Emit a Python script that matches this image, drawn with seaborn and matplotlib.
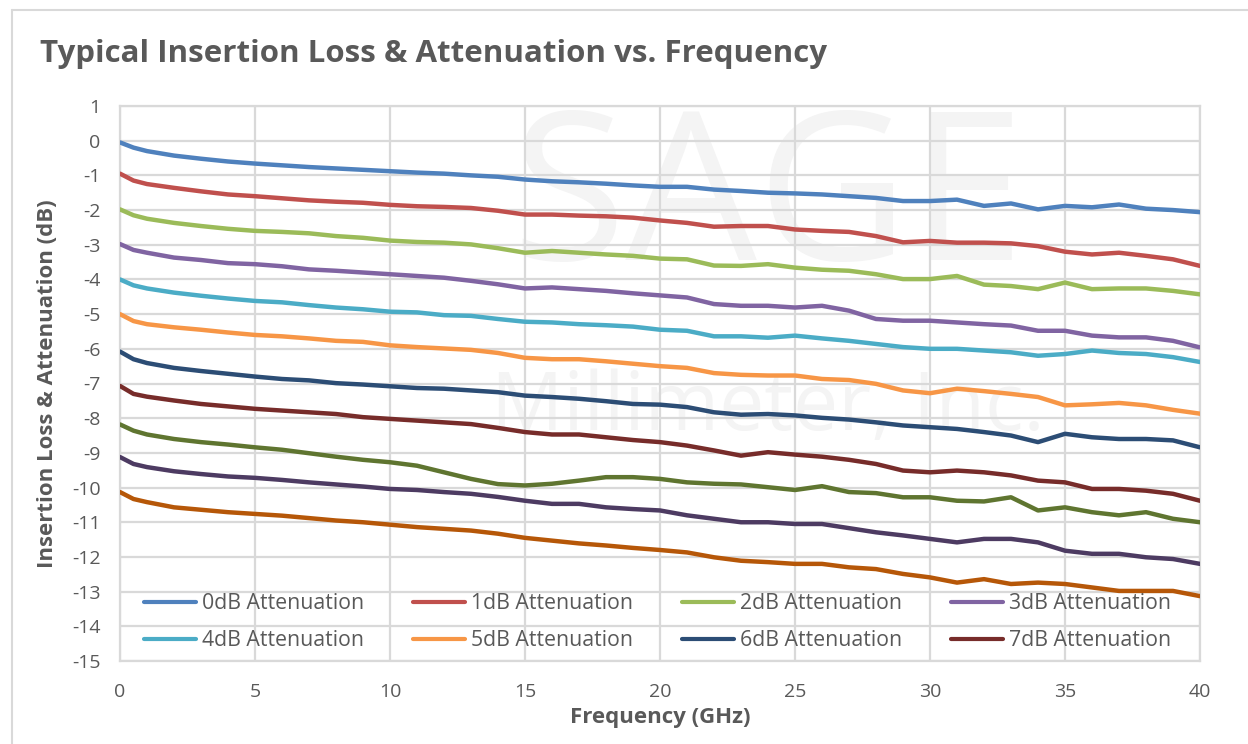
import matplotlib
matplotlib.use("Agg")
import matplotlib.pyplot as plt
from matplotlib.lines import Line2D
import seaborn as sns
import pandas as pd

# ---------------- data ----------------
freq_ghz = [0, 0.5] + list(range(1, 41))

att_0db = [-0.05, -0.20, -0.30, -0.43, -0.52, -0.60, -0.66, -0.71, -0.76, -0.80, -0.84, -0.88,
           -0.92, -0.95, -1.00, -1.04, -1.12, -1.17, -1.20, -1.24, -1.29, -1.33, -1.33, -1.41,
           -1.45, -1.50, -1.52, -1.55, -1.60, -1.65, -1.74, -1.74, -1.70, -1.88, -1.81, -1.98,
           -1.88, -1.92, -1.84, -1.96, -2.00, -2.06]
att_1db = [-0.95, -1.15, -1.25, -1.36, -1.46, -1.55, -1.60, -1.66, -1.72, -1.76, -1.79, -1.85,
           -1.89, -1.91, -1.94, -2.02, -2.13, -2.13, -2.16, -2.18, -2.22, -2.30, -2.37, -2.48,
           -2.46, -2.46, -2.56, -2.60, -2.63, -2.75, -2.93, -2.89, -2.94, -2.94, -2.96, -3.04,
           -3.20, -3.28, -3.23, -3.32, -3.42, -3.61]
att_2db = [-1.98, -2.15, -2.25, -2.37, -2.46, -2.54, -2.60, -2.63, -2.67, -2.75, -2.80, -2.88,
           -2.92, -2.94, -2.99, -3.10, -3.23, -3.18, -3.23, -3.28, -3.32, -3.40, -3.42, -3.60,
           -3.61, -3.56, -3.66, -3.72, -3.75, -3.85, -3.99, -3.99, -3.90, -4.15, -4.19, -4.28,
           -4.09, -4.28, -4.26, -4.26, -4.33, -4.43]
att_3db = [-2.98, -3.15, -3.23, -3.37, -3.44, -3.53, -3.56, -3.62, -3.71, -3.75, -3.80, -3.85,
           -3.90, -3.95, -4.04, -4.14, -4.26, -4.23, -4.28, -4.33, -4.40, -4.46, -4.52, -4.71,
           -4.76, -4.76, -4.81, -4.76, -4.90, -5.14, -5.19, -5.19, -5.24, -5.29, -5.33, -5.48,
           -5.48, -5.62, -5.67, -5.67, -5.77, -5.96]
att_4db = [-4.00, -4.17, -4.26, -4.38, -4.47, -4.55, -4.62, -4.66, -4.74, -4.81, -4.86, -4.93,
           -4.95, -5.03, -5.05, -5.14, -5.22, -5.24, -5.29, -5.32, -5.36, -5.45, -5.48, -5.64,
           -5.64, -5.68, -5.62, -5.70, -5.77, -5.86, -5.95, -6.00, -6.00, -6.05, -6.10, -6.20,
           -6.15, -6.05, -6.12, -6.15, -6.24, -6.38]
att_5db = [-5.00, -5.20, -5.29, -5.38, -5.45, -5.53, -5.60, -5.64, -5.70, -5.77, -5.80, -5.90,
           -5.95, -5.99, -6.03, -6.12, -6.26, -6.30, -6.30, -6.36, -6.43, -6.50, -6.55, -6.70,
           -6.75, -6.77, -6.77, -6.87, -6.90, -7.01, -7.20, -7.28, -7.15, -7.22, -7.30, -7.39,
           -7.63, -7.60, -7.56, -7.63, -7.76, -7.87]
att_6db = [-6.08, -6.30, -6.41, -6.55, -6.64, -6.72, -6.80, -6.87, -6.91, -6.99, -7.03, -7.08,
           -7.13, -7.15, -7.20, -7.25, -7.35, -7.39, -7.44, -7.51, -7.59, -7.61, -7.68, -7.83,
           -7.90, -7.88, -7.92, -7.99, -8.04, -8.12, -8.21, -8.26, -8.31, -8.40, -8.50, -8.69,
           -8.45, -8.55, -8.60, -8.60, -8.64, -8.84]
att_7db = [-7.07, -7.30, -7.38, -7.49, -7.59, -7.66, -7.73, -7.78, -7.83, -7.88, -7.97, -8.02,
           -8.07, -8.12, -8.17, -8.28, -8.40, -8.47, -8.47, -8.55, -8.63, -8.69, -8.79, -8.93,
           -9.08, -8.98, -9.05, -9.11, -9.20, -9.32, -9.51, -9.56, -9.51, -9.56, -9.65, -9.80,
           -9.85, -10.04, -10.04, -10.09, -10.18, -10.38]
att_8db = [-8.18, -8.36, -8.47, -8.60, -8.69, -8.76, -8.84, -8.91, -9.01, -9.11, -9.20, -9.27,
           -9.37, -9.56, -9.75, -9.90, -9.94, -9.89, -9.80, -9.70, -9.70, -9.75, -9.85, -9.89,
           -9.91, -9.99, -10.07, -9.96, -10.13, -10.16, -10.28, -10.28, -10.38, -10.40, -10.28,
           -10.66, -10.57, -10.71, -10.80, -10.71, -10.90, -11.00]
att_9db = [-9.12, -9.32, -9.41, -9.53, -9.61, -9.68, -9.72, -9.78, -9.85, -9.91, -9.97, -10.04,
           -10.07, -10.13, -10.18, -10.27, -10.38, -10.47, -10.47, -10.57, -10.62, -10.66, -10.80,
           -10.90, -11.00, -11.00, -11.05, -11.05, -11.17, -11.29, -11.38, -11.48, -11.58, -11.48,
           -11.48, -11.58, -11.82, -11.91, -11.91, -12.01, -12.06, -12.20]
att_10db = [-10.13, -10.33, -10.42, -10.57, -10.64, -10.71, -10.76, -10.81, -10.88, -10.95, -11.00,
            -11.07, -11.14, -11.19, -11.24, -11.33, -11.45, -11.53, -11.61, -11.67, -11.74, -11.80,
            -11.87, -12.01, -12.11, -12.15, -12.20, -12.20, -12.30, -12.35, -12.49, -12.59, -12.74,
            -12.64, -12.78, -12.74, -12.78, -12.88, -12.98, -12.98, -12.98, -13.13]

series_names = ["0dB Attenuation", "1dB Attenuation", "2dB Attenuation", "3dB Attenuation",
                "4dB Attenuation", "5dB Attenuation", "6dB Attenuation", "7dB Attenuation",
                "8dB Attenuation", "9dB Attenuation", "10dB Attenuation"]
series_values = [att_0db, att_1db, att_2db, att_3db, att_4db, att_5db, att_6db, att_7db,
                 att_8db, att_9db, att_10db]
series_colors = ["#4F81BD", "#C0504D", "#9BBB59", "#8064A2", "#4BACC6", "#F79646",
                 "#2C4D75", "#772C2A", "#5F7530", "#4D3B62", "#B65708"]
legend_count = 8

x_ticks = [0, 5, 10, 15, 20, 25, 30, 35, 40]
y_ticks = list(range(-15, 2))

title_text = "Typical Insertion Loss & Attenuation vs. Frequency"
x_label = "Frequency (GHz)"
y_label = "Insertion Loss & Attenuation (dB)"

# ---------------- figure ----------------
sns.set_style("white")
plt.rcParams["font.family"] = ["Open Sans", "DejaVu Sans"]

TXT = "#595959"
GRID = "#D9D9D9"

fig = plt.figure(figsize=(12.48, 7.44), dpi=100)
fig.patch.set_facecolor("white")
W, H = 1248, 744
ax = fig.add_axes([120 / W, 1 - 661 / H, 1080 / W, 555 / H])

# faint watermark
ax.text(0.60, 0.82, "SAGE", transform=ax.transAxes, ha="center", va="center",
        fontsize=150, color="#F4F4F4", zorder=0)
ax.text(0.60, 0.455, "Millimeter, Inc.", transform=ax.transAxes, ha="center", va="center",
        fontsize=58, color="#F4F4F4", zorder=0)

long_rows = []
for name, vals in zip(series_names, series_values):
    for f, v in zip(freq_ghz, vals):
        long_rows.append({"freq": f, "value": v, "series": name})
df = pd.DataFrame(long_rows)

for i, (name, color) in enumerate(zip(series_names, series_colors)):
    sub = df[df["series"] == name]
    sns.lineplot(data=sub, x="freq", y="value", color=color, linewidth=3.2,
                 label=name if i < legend_count else "_nolegend_", ax=ax, zorder=3,
                 solid_capstyle="round", solid_joinstyle="round")

ax.set_xlim(0, 40)
ax.set_ylim(-15, 1)
ax.set_xticks(x_ticks)
ax.set_yticks(y_ticks)
ax.set_xticklabels([str(t) for t in x_ticks])
ax.set_yticklabels([str(t) for t in y_ticks])
ax.grid(True, color=GRID, linewidth=1.6, zorder=1)
ax.set_axisbelow(True)
for sp in ax.spines.values():
    sp.set_color(GRID)
    sp.set_linewidth(1.6)
ax.tick_params(axis="both", length=0, labelcolor=TXT, labelsize=14)
ax.tick_params(axis="y", pad=14)
ax.tick_params(axis="x", pad=16)

ax.set_xlabel(x_label, fontsize=16, fontweight="bold", color=TXT, labelpad=4)
ax.set_ylabel(y_label, fontsize=16, fontweight="bold", color=TXT, labelpad=10)

handles, labels = ax.get_legend_handles_labels()
handles, labels = handles[:legend_count], labels[:legend_count]
ncol = 4
order = [r * ncol + c for c in range(ncol) for r in range(legend_count // ncol)]
leg = ax.legend([handles[k] for k in order], [labels[k] for k in order], ncol=ncol,
                frameon=False, loc="upper left", bbox_to_anchor=(144 / W, 1 - 593 / H),
                bbox_transform=fig.transFigure, borderpad=0, borderaxespad=0,
                fontsize=15.3, handlelength=2.45, handletextpad=0.28,
                columnspacing=2.3, labelspacing=0.77)
for t in leg.get_texts():
    t.set_color(TXT)
for l in leg.get_lines():
    l.set_linewidth(3.0)
leg.set_zorder(5)

fig.text(40 / W, 1 - 54 / H, title_text, fontsize=22.5, fontweight="bold", color=TXT,
         ha="left", va="center")

# chart-area border (left and top edges visible in the reference)
fig.add_artist(Line2D([12 / W, 12 / W], [0, 1 - 10 / H], transform=fig.transFigure,
                      color=GRID, linewidth=1.5))
fig.add_artist(Line2D([12 / W, 1], [1 - 10 / H, 1 - 10 / H], transform=fig.transFigure,
                      color=GRID, linewidth=1.5))

fig.savefig("out.png", dpi=100, facecolor="white")
